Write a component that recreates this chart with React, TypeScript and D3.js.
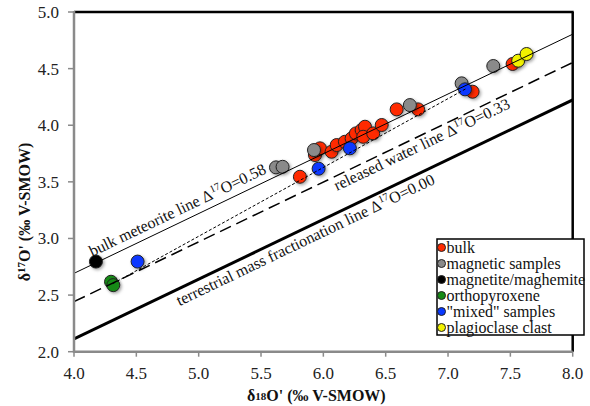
import React from 'react';
import * as d3 from 'd3';

// ---- data ----
const xTicks = [4.0, 4.5, 5.0, 5.5, 6.0, 6.5, 7.0, 7.5, 8.0];
const yTicks = [2.0, 2.5, 3.0, 3.5, 4.0, 4.5, 5.0];

const bulkPts: [number, number][] = [
  [5.812, 3.545], [5.933, 3.737], [5.973, 3.796], [6.066, 3.766], [6.107, 3.825],
  [6.173, 3.854], [6.227, 3.884], [6.261, 3.928], [6.307, 3.958], [6.334, 3.987],
  [6.32, 3.898], [6.40, 3.928], [6.468, 4.002], [6.588, 4.14], [6.76, 4.14],
  [7.197, 4.296], [7.518, 4.541],
];
const magneticPts: [number, number][] = [
  [5.62, 3.628], [5.673, 3.633], [5.925, 3.781], [6.694, 4.178], [7.109, 4.37], [7.363, 4.523],
];
const magnetitePts: [number, number][] = [[4.176, 2.796]];
const orthoPts: [number, number][] = [[4.297, 2.618], [4.315, 2.588]];
const mixedPts: [number, number][] = [[4.51, 2.796], [5.962, 3.616], [6.213, 3.796], [7.136, 4.317]];
const plagPts: [number, number][] = [[7.563, 4.57], [7.63, 4.629]];

const seriesNames = ['bulk', 'magnetic samples', 'magnetite/maghemite', 'orthopyroxene', '"mixed" samples', 'plagioclase clast'];
const seriesColors = ['#ff2a00', '#8a8a8a', '#000000', '#158a15', '#0838ff', '#f2f200'];
const seriesData = [bulkPts, magneticPts, magnetitePts, orthoPts, mixedPts, plagPts];

// fractionation lines: delta17O = slope * delta18O + D17
const lineSlope = 0.528;
const lineD17 = [0.58, 0.33, 0.0];
const lineLabelStart = [4.17, 6.06, 4.79];
const lineLabelNames = ['bulk meteorite line', 'released water line', 'terrestrial mass fractionation line'];
const lineLabelValues = ['0.58', '0.33', '0.00'];
const mixingLine: [number, number][] = [[4.31, 2.60], [7.14, 4.32]];

export default function App() {
  const W = 590, H = 406;
  const x = d3.scaleLinear().domain([4, 8]).range([74, 572.7]);
  const y = d3.scaleLinear().domain([2, 5]).range([351.7, 12]);
  const font = "'Liberation Serif', 'DejaVu Serif', serif";
  const fs = 16;
  const tickFs = 17;

  const lineStyles = [
    { w: 1, dash: undefined as string | undefined },
    { w: 1.5, dash: '12,6' },
    { w: 3, dash: undefined },
  ];
  const labelDy = [-7, 14, 16];

  const angle = (Math.atan2(y(lineSlope * 8) - y(lineSlope * 4), x(8) - x(4)) * 180) / Math.PI;
  const lineGen = d3.line<[number, number]>().x(d => x(d[0])).y(d => y(d[1]));
  const ts: React.CSSProperties = { fontFamily: font };

  return (
    <svg width={W} height={H} style={{ position: 'absolute', left: 0, top: 0, background: '#fff', fontFamily: font }}>
      <defs>
        <filter id="sh" x="-50%" y="-50%" width="200%" height="200%">
          <feDropShadow dx="1.5" dy="1.5" stdDeviation="1.5" floodColor="#000" floodOpacity="0.35" />
        </filter>
        <clipPath id="plot">
          <rect x={x(4)} y={y(5)} width={x(8) - x(4)} height={y(2) - y(5)} />
        </clipPath>
      </defs>

      {/* points */}
      {seriesData.map((pts, si) =>
        pts.map((p, i) => (
          <circle key={si + '-' + i} cx={x(p[0])} cy={y(p[1])} r={6.5}
            fill={seriesColors[si]} stroke="#222" strokeWidth={1} filter="url(#sh)" />
        ))
      )}

      {/* reference lines */}
      <g clipPath="url(#plot)">
        {lineD17.map((d, i) => (
          <path key={i}
            d={lineGen([[4, lineSlope * 4 + d], [8, lineSlope * 8 + d]]) || ''}
            stroke="#000" strokeWidth={lineStyles[i].w} strokeDasharray={lineStyles[i].dash} fill="none" />
        ))}
        <path d={lineGen(mixingLine) || ''} stroke="#000" strokeWidth={1} strokeDasharray="3,2" fill="none" />
      </g>

      {/* line labels */}
      {lineD17.map((d, i) => {
        const lx = x(lineLabelStart[i]);
        const ly = y(lineSlope * lineLabelStart[i] + d);
        return (
          <text key={i} style={ts} transform={`translate(${lx},${ly}) rotate(${angle})`} dy={labelDy[i]} fontSize={fs} fill="#111">
            {lineLabelNames[i] + ' Δ'}
            <tspan fontSize={10.5} dy={-6}>17</tspan>
            <tspan dy={6}>{'O=' + lineLabelValues[i]}</tspan>
          </text>
        );
      })}

      {/* frame */}
      <line x1={x(4)} x2={x(8) + 1} y1={y(5)} y2={y(5)} stroke="#000" strokeWidth={2.5} />
      <line x1={x(8)} x2={x(8)} y1={y(5)} y2={y(2)} stroke="#000" strokeWidth={2.5} />
      <line x1={x(4)} x2={x(8)} y1={y(2)} y2={y(2)} stroke="#8a8a8a" strokeWidth={2.5} />
      <line x1={x(4)} x2={x(4)} y1={y(5) - 1} y2={y(2) + 1} stroke="#8a8a8a" strokeWidth={2.5} />

      {/* y ticks */}
      {yTicks.map(t => (
        <g key={'y' + t}>
          <line x1={x(4) - 6} x2={x(4)} y1={y(t)} y2={y(t)} stroke="#8a8a8a" strokeWidth={1.5} />
          <text style={ts} x={59} y={y(t)} dy="0.35em" textAnchor="end" fontSize={tickFs} fill="#222">{t.toFixed(1)}</text>
        </g>
      ))}
      {/* x ticks */}
      {xTicks.map(t => (
        <g key={'x' + t}>
          <line x1={x(t)} x2={x(t)} y1={y(2)} y2={y(2) + 5} stroke="#8a8a8a" strokeWidth={1.5} />
          <text style={ts} x={x(t)} y={379} textAnchor="middle" fontSize={tickFs} fill="#222">{t.toFixed(1)}</text>
        </g>
      ))}

      {/* axis titles */}
      <text style={ts} x={(x(4) + x(8)) / 2 - 7} y={401} textAnchor="middle" fontSize={16} fontWeight="bold" fill="#111">
        δ<tspan fontSize={11} dy={-1}>18</tspan><tspan dy={1}>O' (‰ V-SMOW)</tspan>
      </text>
      <text style={ts} transform={`translate(30,212) rotate(-90)`} textAnchor="middle" fontSize={16} fontWeight="bold" fill="#111">
        δ<tspan fontSize={11} dy={-5}>17</tspan><tspan dy={5}>O' (‰ V-SMOW)</tspan>
      </text>

      {/* legend */}
      <rect x={437} y={239} width={147} height={96} fill="#fff" stroke="#000" strokeWidth={1.5} />
      {seriesNames.map((n, i) => (
        <g key={n}>
          <circle cx={441.5} cy={247.5 + i * 16} r={4} fill={seriesColors[i]} stroke="#222" strokeWidth={1} />
          <text style={ts} x={446.5} y={247.5 + i * 16} dy="0.33em" fontSize={fs} fill="#111">{n}</text>
        </g>
      ))}
    </svg>
  );
}
